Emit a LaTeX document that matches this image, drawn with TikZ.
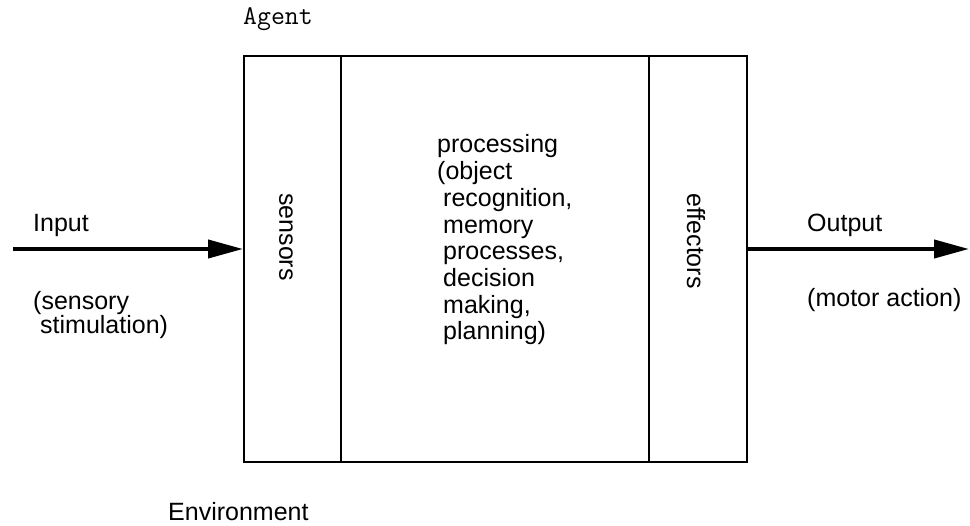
\documentclass[tikz,border=0pt]{standalone}
\usepackage{fontspec}
\setmainfont{Liberation Sans}
\usetikzlibrary{arrows.meta}
\begin{document}
\begin{tikzpicture}[x=1pt,y=-1pt,
  lbl/.style={font=\fontsize{25}{27}\selectfont, inner sep=0pt, anchor=base west},
  side/.style={font=\fontsize{25}{27}\selectfont, inner sep=0pt, rotate=-90},
  col/.style={draw, line width=1.6pt, inner sep=0pt, minimum height=406pt, anchor=north west},
  flow/.style={line width=4pt, -{Triangle[length=35pt,width=18pt]}}]
\useasboundingbox (0,0) rectangle (970,526);
% columns of the agent box
\node[col, minimum width=97pt] (sens) at (243,55) {};
\node[col, minimum width=308pt] (proc) at (340,55) {};
\node[col, minimum width=98pt] (eff) at (648,55) {};
% titles
\node[anchor=base west, inner sep=0pt, font=\ttfamily\addfontfeatures{LetterSpace=6}\fontsize{27}{30}\selectfont] (agent) at (243,25) {Agent};
\node[lbl] (env) at (168,521) {Environment};
% column texts
\node[side] (senst) at (286,237) {sensors};
\node[side] (efft) at (696,241) {effectors};
\node[lbl] (p1) at (437,153.0) {processing};
\node[lbl] (p2) at (437,179.7) {(object};
\node[lbl] (p3) at (443,206.4) {recognition,};
\node[lbl] (p4) at (443,233.1) {memory};
\node[lbl] (p5) at (443,259.8) {processes,};
\node[lbl] (p6) at (443,286.5) {decision};
\node[lbl] (p7) at (443,313.2) {making,};
\node[lbl] (p8) at (443,339.9) {planning)};
% input side
\node[lbl] (inl) at (33,232) {Input};
\node[lbl] (ins1) at (33,310) {(sensory};
\node[lbl] (ins2) at (40,334) {stimulation)};
\coordinate (inStart) at (13,249);
\draw[flow] (inStart) -- (sens.west |- inStart);
% output side
\node[lbl] (outl) at (807,232) {Output};
\node[lbl] (outs) at (807,307) {(motor action)};
\coordinate (outEnd) at (969,249);
\draw[flow] (eff.east |- outEnd) -- (outEnd);
\end{tikzpicture}
\end{document}
